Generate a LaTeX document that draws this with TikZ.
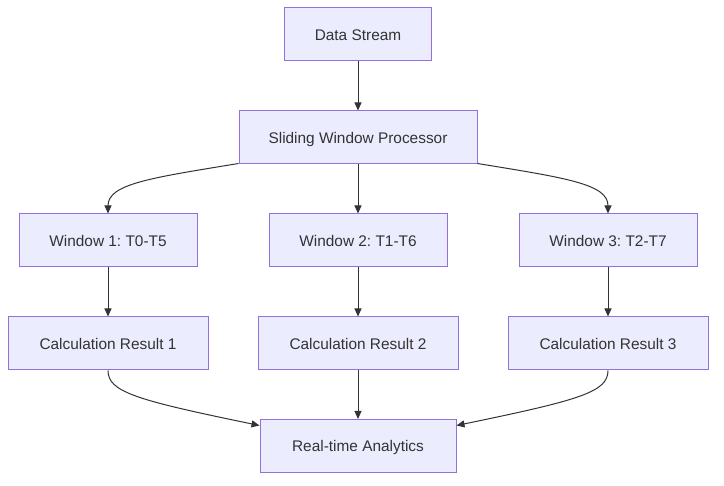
\documentclass[tikz,border=0pt]{standalone}
\usepackage{fontspec}
\setmainfont{Liberation Sans}
\usetikzlibrary{arrows.meta}
\definecolor{nodefill}{HTML}{ECECFF}
\definecolor{nodeborder}{HTML}{9370DB}
\definecolor{txt}{HTML}{333333}
\definecolor{edge}{HTML}{333333}
\frenchspacing
\begin{document}
\begin{tikzpicture}[x=1pt,y=-1pt,
  box/.style={draw=nodeborder, fill=nodefill, line width=1pt, minimum height=53pt,
    inner sep=0pt, text=txt, font=\fontsize{15.4}{18}\selectfont,
    text depth=0pt, text height=12pt},
  conn/.style={draw=edge, line width=1pt, -{Triangle[length=8pt,width=7pt]}}]
\useasboundingbox (0,0) rectangle (724,486);
\node[box, minimum width=147pt] (ds) at (358,34.5) {Data Stream};
\node[box, minimum width=238pt] (swp) at (358,137.5) {Sliding Window Processor};
\node[box, minimum width=178pt] (w1) at (108,240.5) {Window 1: T0-T5};
\node[box, minimum width=178pt] (w2) at (358,240.5) {Window 2: T1-T6};
\node[box, minimum width=178pt] (w3) at (608,240.5) {Window 3: T2-T7};
\node[box, minimum width=200pt] (c1) at (108,343.5) {Calculation Result 1};
\node[box, minimum width=200pt] (c2) at (358,343.5) {Calculation Result 2};
\node[box, minimum width=200pt] (c3) at (608,343.5) {Calculation Result 3};
\node[box, minimum width=196pt] (rt) at (358,446) {Real-time Analytics};
\draw[conn] (ds) -- (swp);
\draw[conn] (swp) -- (w2);
\draw[conn] (swp.south west) ++(0,-1) .. controls (150,178) and (108,184) .. (w1.north);
\draw[conn] (swp.south east) ++(0,-1) .. controls (566,178) and (608,184) .. (w3.north);
\draw[conn] (w1) -- (c1);
\draw[conn] (w2) -- (c2);
\draw[conn] (w3) -- (c3);
\draw[conn] (c2) -- (rt);
\draw[conn] (c1.south) .. controls (108,392) and (136,400) .. (rt.west |- 0,425.5);
\draw[conn] (c3.south) .. controls (608,392) and (580,400) .. (rt.east |- 0,425.5);
\end{tikzpicture}
\end{document}
